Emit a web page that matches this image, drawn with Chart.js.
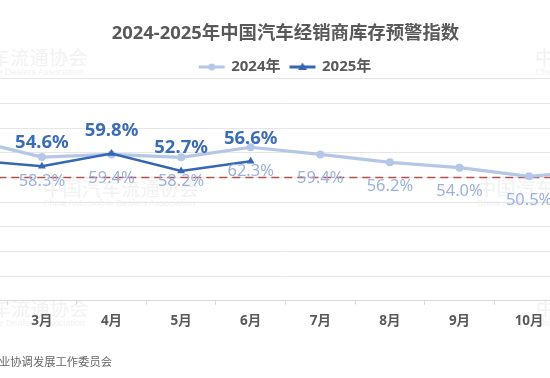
<!DOCTYPE html>
<html>
<head>
<meta charset="utf-8">
<script src="https://cdn.jsdelivr.net/npm/chart.js@4.4.1/dist/chart.umd.min.js"></script>
<style>
  html, body { margin: 0; padding: 0; background: #fff; }
  body { width: 550px; height: 378px; overflow: hidden; position: relative; }
  #chart { position: absolute; left: -67px; top: 0; z-index: 2; }
  .wm { position: absolute; color: #f2f2f2; font-family: "Noto Sans CJK SC", sans-serif; white-space: nowrap; z-index: 1; }
  .wm .cn { font-size: 19px; line-height: 20px; letter-spacing: 0.5px; }
  .wm .en { font-size: 9px; line-height: 11px; font-family: "Liberation Sans", sans-serif; }
  #source { position: absolute; left: -1px; top: 353px; font-size: 11.3px; color: #666; font-family: "Noto Sans CJK SC", sans-serif; z-index: 3; }
</style>
</head>
<body>
<div class="wm" style="left:-68px; top:47px"><div class="cn">中国汽车流通协会</div><div class="en">China Automobile Dealers Association</div></div>
<div class="wm" style="left:535px; top:47px"><div class="cn">中国汽车流通协会</div><div class="en">China Automobile Dealers Association</div></div>
<div class="wm" style="left:43px; top:178px"><div class="cn">中国汽车流通协会</div><div class="en">China Automobile Dealers Association</div></div>
<div class="wm" style="left:477px; top:178px"><div class="cn">中国汽车流通协会</div><div class="en">China Automobile Dealers Association</div></div>
<div class="wm" style="left:-67px; top:298px"><div class="cn">中国汽车流通协会</div><div class="en">China Automobile Dealers Association</div></div>
<div class="wm" style="left:536px; top:298px"><div class="cn">中国汽车流通协会</div><div class="en">China Automobile Dealers Association</div></div>
<canvas id="chart" width="705" height="378"></canvas>
<div id="source">业协调发展工作委员会</div>
<script>
// months shown (2月 and 11月 sit just outside the visible crop)
var months = ['2月', '3月', '4月', '5月', '6月', '7月', '8月', '9月', '10月', '11月'];
var index2024 = [65.2, 58.3, 59.4, 58.2, 62.3, 59.4, 56.2, 54.0, 50.5, 52.8];
var index2025 = [57.0, 54.6, 59.8, 52.7, 56.6, null, null, null, null, null];
var warnLine = [50, 50, 50, 50, 50, 50, 50, 50, 50, 50];
var seriesNames = ['2024年', '2025年'];

var light = '#b4c7e7';
var dark = '#3567b5';
var fontFamily = '"Noto Sans", "Noto Sans CJK SC", sans-serif';

// legend sample: short line with marker in the middle
function legendIcon(color, shape) {
    var c = document.createElement('canvas');
    c.width = 28; c.height = 12;
    var g = c.getContext('2d');
    g.strokeStyle = color;
    g.fillStyle = color;
    g.lineWidth = 3;
    g.beginPath(); g.moveTo(1, 6); g.lineTo(27, 6); g.stroke();
    g.beginPath();
    if (shape == 'circle') {
        g.arc(14, 6, 3.5, 0, Math.PI * 2);
    } else {
        g.moveTo(14, 1.5); g.lineTo(18.5, 9); g.lineTo(9.5, 9); g.closePath();
    }
    g.fill();
    return c;
}
var icons = [legendIcon(light, 'circle'), legendIcon(dark, 'triangle')];

// value labels: 2024 below the points, 2025 above
var valueLabels = {
    id: 'valueLabels',
    afterDatasetsDraw: function (chart) {
        var ctx = chart.ctx;
        var styles = [
            {dy: 24, font: '16.5px ' + fontFamily, color: '#9eb1da'},
            {dy: -23, font: 'bold 18.5px ' + fontFamily, color: '#3b6cb6'}
        ];
        ctx.save();
        ctx.textAlign = 'center';
        ctx.textBaseline = 'middle';
        styles.forEach(function (s, i) {
            var meta = chart.getDatasetMeta(i);
            var data = chart.data.datasets[i].data;
            ctx.font = s.font;
            ctx.fillStyle = s.color;
            meta.data.forEach(function (pt, j) {
                if (data[j] == null) return;
                ctx.fillText(data[j].toFixed(1) + '%', pt.x, pt.y + s.dy);
            });
        });
        ctx.restore();
    }
};

var ctx = document.getElementById('chart');
var chart = new Chart(ctx, {
    type: 'line',
    data: {
        labels: months,
        datasets: [{
            label: seriesNames[0],
            data: index2024,
            borderColor: light,
            backgroundColor: light,
            borderWidth: 3.2,
            pointStyle: 'circle',
            pointRadius: 4,
            pointBorderWidth: 0,
            order: 1
        }, {
            label: seriesNames[1],
            data: index2025,
            borderColor: dark,
            backgroundColor: dark,
            borderWidth: 2.5,
            pointStyle: 'triangle',
            pointRadius: 4.5,
            pointBorderWidth: 0,
            order: 0
        }, {
            label: 'warn',
            data: warnLine,
            borderColor: '#b3514d',
            borderWidth: 1.5,
            borderDash: [8, 5],
            pointRadius: 0,
            order: 2
        }]
    },
    options: {
        responsive: false,
        animation: false,
        layout: { padding: { left: 0, right: 0, top: 0, bottom: 41 } },
        plugins: {
            tooltip: { enabled: false },
            title: {
                display: true,
                text: '2024-2025年中国汽车经销商库存预警指数',
                color: '#595959',
                font: { family: fontFamily, size: 18.4, weight: 'bold' },
                padding: { top: 23, bottom: 4.4 }
            },
            legend: {
                display: true,
                maxHeight: 29.5,
                labels: {
                    color: '#595959',
                    font: { family: fontFamily, size: 15, weight: 'bold' },
                    usePointStyle: true,
                    pointStyleWidth: 24,
                    padding: 10,
                    filter: function (item) { return item.datasetIndex < 2; },
                    sort: function (a, b) { return a.datasetIndex - b.datasetIndex; },
                    generateLabels: function (chart) {
                        var items = Chart.defaults.plugins.legend.labels.generateLabels(chart);
                        items.forEach(function (it) {
                            if (it.datasetIndex < 2) it.pointStyle = icons[it.datasetIndex];
                        });
                        return items;
                    }
                }
            }
        },
        scales: {
            x: {
                type: 'category',
                offset: true,
                grid: {
                    offset: true,
                    drawOnChartArea: false,
                    drawTicks: true,
                    tickLength: 4,
                    color: '#d9d9d9'
                },
                border: { display: true, color: '#d9d9d9', width: 1 },
                ticks: {
                    color: '#595959',
                    padding: 8,
                    font: { family: fontFamily, size: 13.5, weight: 'bold' }
                }
            },
            y: {
                min: 0,
                max: 90,
                ticks: { display: false, stepSize: 10 },
                grid: { color: '#e6e6e6', drawTicks: false },
                border: { display: false }
            }
        }
    },
    plugins: [valueLabels]
});
</script>
</body>
</html>
